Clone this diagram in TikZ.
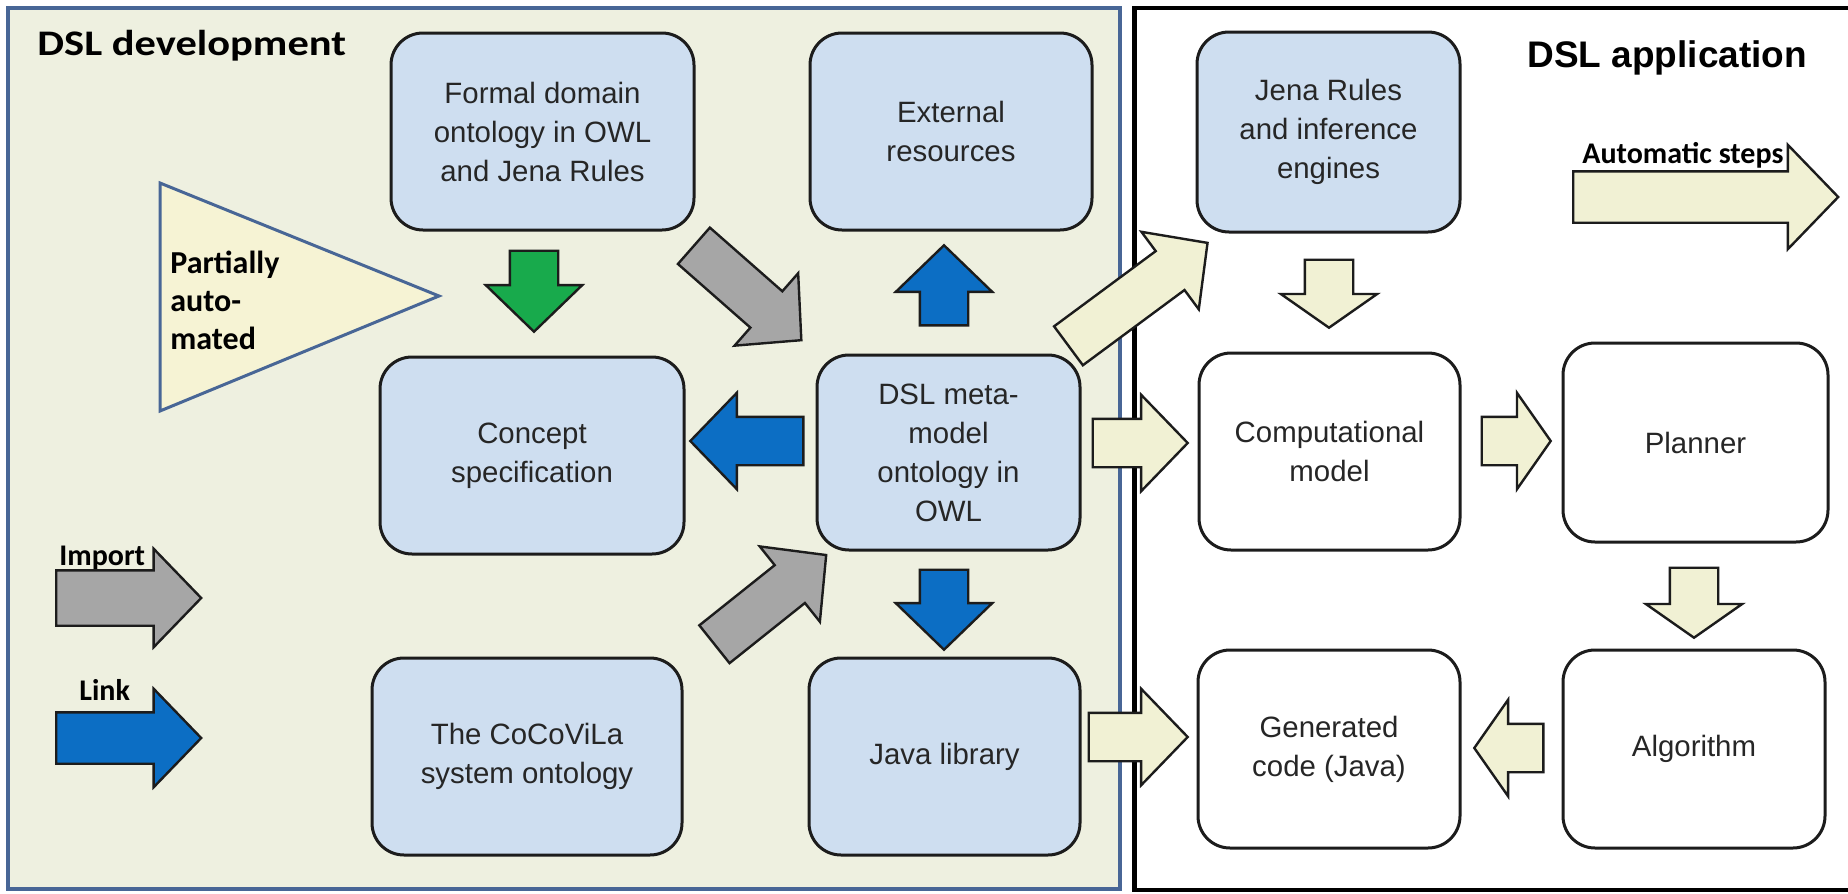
\documentclass[tikz,border=0pt]{standalone}
\usepackage{fontspec}
\setmainfont{Liberation Sans}
\newfontfamily\lblfont{Carlito}
\newfontfamily\titlefont[FakeStretch=1.18]{Carlito}
\usetikzlibrary{shapes.arrows,calc}

\definecolor{panelbg}{RGB}{238,240,224}
\definecolor{panelblue}{RGB}{72,102,150}
\definecolor{boxblue}{RGB}{206,222,240}
\definecolor{cream}{RGB}{241,241,212}
\definecolor{trifill}{RGB}{246,243,212}
\definecolor{arrgray}{RGB}{166,166,166}
\definecolor{arrblue}{RGB}{12,110,196}
\definecolor{arrgreen}{RGB}{24,170,76}
\definecolor{edge}{RGB}{28,28,28}

\tikzset{
  stage/.style={draw=edge, line width=1.5pt, rounded corners=16pt, align=center,
    inner sep=0pt, text=black!85, font=\fontsize{14.7}{19.5}\selectfont},
  devbox/.style={stage, fill=boxblue},
  appbox/.style={stage, fill=white},
  % shaft width = 2 x inner ysep, head width = shaft + 2 x head extend
  blockarrow/.style={single arrow, draw=edge, line width=1.2pt,
    inner xsep=0pt, inner ysep=11.5pt, anchor=tail,
    single arrow head extend=12pt, single arrow tip angle=92},
  shortarrow/.style={blockarrow, single arrow tip angle=110},
  legendlabel/.style={anchor=base west, inner sep=0pt,
    font=\lblfont\bfseries\fontsize{15}{18}\selectfont},
}

\begin{document}
\begin{tikzpicture}[x=0.5pt,y=-0.5pt]
\useasboundingbox (0,0) rectangle (1848,894);

% the two panels
\draw[panelblue, line width=2pt, fill=panelbg] (7.5,8) rectangle (1119.5,889);
\draw[black, line width=2.4pt, fill=white] (1134.5,8) rectangle (1880,890);

% panel titles
\node[anchor=base west, inner sep=0pt,
  font=\titlefont\bfseries\fontsize{18}{20}\selectfont] (devtitle) at (37,55) {DSL development};
\node[anchor=base west, inner sep=0pt,
  font=\bfseries\fontsize{18.5}{20}\selectfont] (apptitle) at (1527,68) {DSL application};

% development stages
\node[devbox, minimum width=151.5pt, minimum height=98.5pt] (formal) at (542.5,131.5)
  {Formal domain\\ontology in OWL\\and Jena Rules};
\node[devbox, minimum width=141pt, minimum height=98.5pt] (external) at (951,131.5)
  {External\\resources};
\node[devbox, minimum width=152pt, minimum height=98.5pt] (concept) at (532,455.5)
  {Concept\\specification};
\node[devbox, minimum width=131.5pt, minimum height=97.5pt] (meta) at (948.5,452.5)
  {DSL meta-\\model\\ontology in\\OWL};
\node[devbox, minimum width=155pt, minimum height=98.5pt] (coco) at (527,756.5)
  {The CoCoViLa\\system ontology};
\node[devbox, minimum width=135.5pt, minimum height=98.5pt] (javalib) at (944.5,756.5)
  {Java library};

% application stages
\node[devbox, minimum width=131.5pt, minimum height=100pt] (jena) at (1328.5,132)
  {Jena Rules\\and inference\\engines};
\node[appbox, minimum width=130.5pt, minimum height=98.5pt] (comp) at (1329.5,451.5)
  {Computational\\model};
\node[appbox, minimum width=132.5pt, minimum height=99.5pt] (planner) at (1695.5,442.5)
  {Planner};
\node[appbox, minimum width=131pt, minimum height=99pt] (gencode) at (1329,749)
  {Generated\\code (Java)};
\node[appbox, minimum width=131pt, minimum height=99pt] (algo) at (1694,749)
  {Algorithm};

% partially automated step
\draw[panelblue, line width=1.5pt, fill=trifill] (160,183) -- (439,296) -- (160,411) -- cycle;
\node[anchor=west, inner sep=0pt, align=left,
  font=\lblfont\bfseries\fontsize{16}{19}\selectfont] (partial) at (170,300)
  {Partially\\auto-\\mated};

% block arrows between the stages
\node[blockarrow, fill=arrgreen, rotate=-90, minimum height=40.5pt]
  (formalToConcept) at ($(formal.south)+(-8.5,18)$) {};
\node[blockarrow, fill=arrgray, rotate=-41.3, minimum height=71.5pt]
  (formalToMeta) at ($(formal.south east)+(-2.5,13.5)$) {};
\node[blockarrow, fill=arrblue, rotate=90, minimum height=40pt]
  (metaToExternal) at ($(meta.north)+(-4.5,-27)$) {};
\node[blockarrow, fill=cream, rotate=36.5, minimum height=86.5pt]
  (metaToJena) at ($(meta.north east)+(-14,-7)$) {};
\node[shortarrow, fill=cream, rotate=-90, minimum height=34pt]
  (jenaToComp) at ($(jena.south)+(0.5,25)$) {};
\node[blockarrow, fill=arrblue, rotate=180, minimum height=56.5pt]
  (metaToConcept) at ($(meta.west)+(-11,-11.5)$) {};
\node[blockarrow, fill=cream, minimum height=47.5pt]
  (metaToComp) at ($(meta.east)+(10,-9.5)$) {};
\node[shortarrow, fill=cream, minimum height=34.5pt]
  (compToPlanner) at ($(comp.east)+(19,-10.5)$) {};
\node[shortarrow, fill=cream, rotate=-90, minimum height=35pt]
  (plannerToAlgo) at ($(planner.south)+(-1.5,23)$) {};
\node[blockarrow, fill=arrgray, rotate=38.6, minimum height=71.5pt]
  (cocoToMeta) at ($(coco.north east)+(30,-11.5)$) {};
\node[blockarrow, fill=arrblue, rotate=-90, minimum height=40pt]
  (metaToJava) at ($(meta.south)+(-4.5,17)$) {};
\node[blockarrow, fill=cream, minimum height=49.5pt]
  (javaToCode) at ($(javalib.east)+(6,-19.5)$) {};
\node[shortarrow, fill=cream, rotate=180, minimum height=34.5pt]
  (algoToCode) at ($(algo.west)+(-17,-1)$) {};

% legend
\node[legendlabel] (importlbl) at (59,565) {Import};
\node[blockarrow, fill=arrgray, minimum height=72.5pt, inner ysep=13.25pt,
  single arrow head extend=10.75pt] (importkey) at ($(importlbl.base west)+(-4,33)$) {};
\node[legendlabel] (linklbl) at (79,700) {Link};
\node[blockarrow, fill=arrblue, minimum height=72.5pt, inner ysep=12.25pt,
  single arrow head extend=11.75pt] (linkkey) at ($(linklbl.base west)+(-24,38)$) {};
\node[legendlabel] (autolbl) at (1582,163) {Automatic steps};
\node[blockarrow, fill=cream, minimum height=132.5pt, inner ysep=12.25pt,
  single arrow head extend=13.25pt] (autokey) at ($(autolbl.base west)+(-10,34)$) {};
\end{tikzpicture}
\end{document}
